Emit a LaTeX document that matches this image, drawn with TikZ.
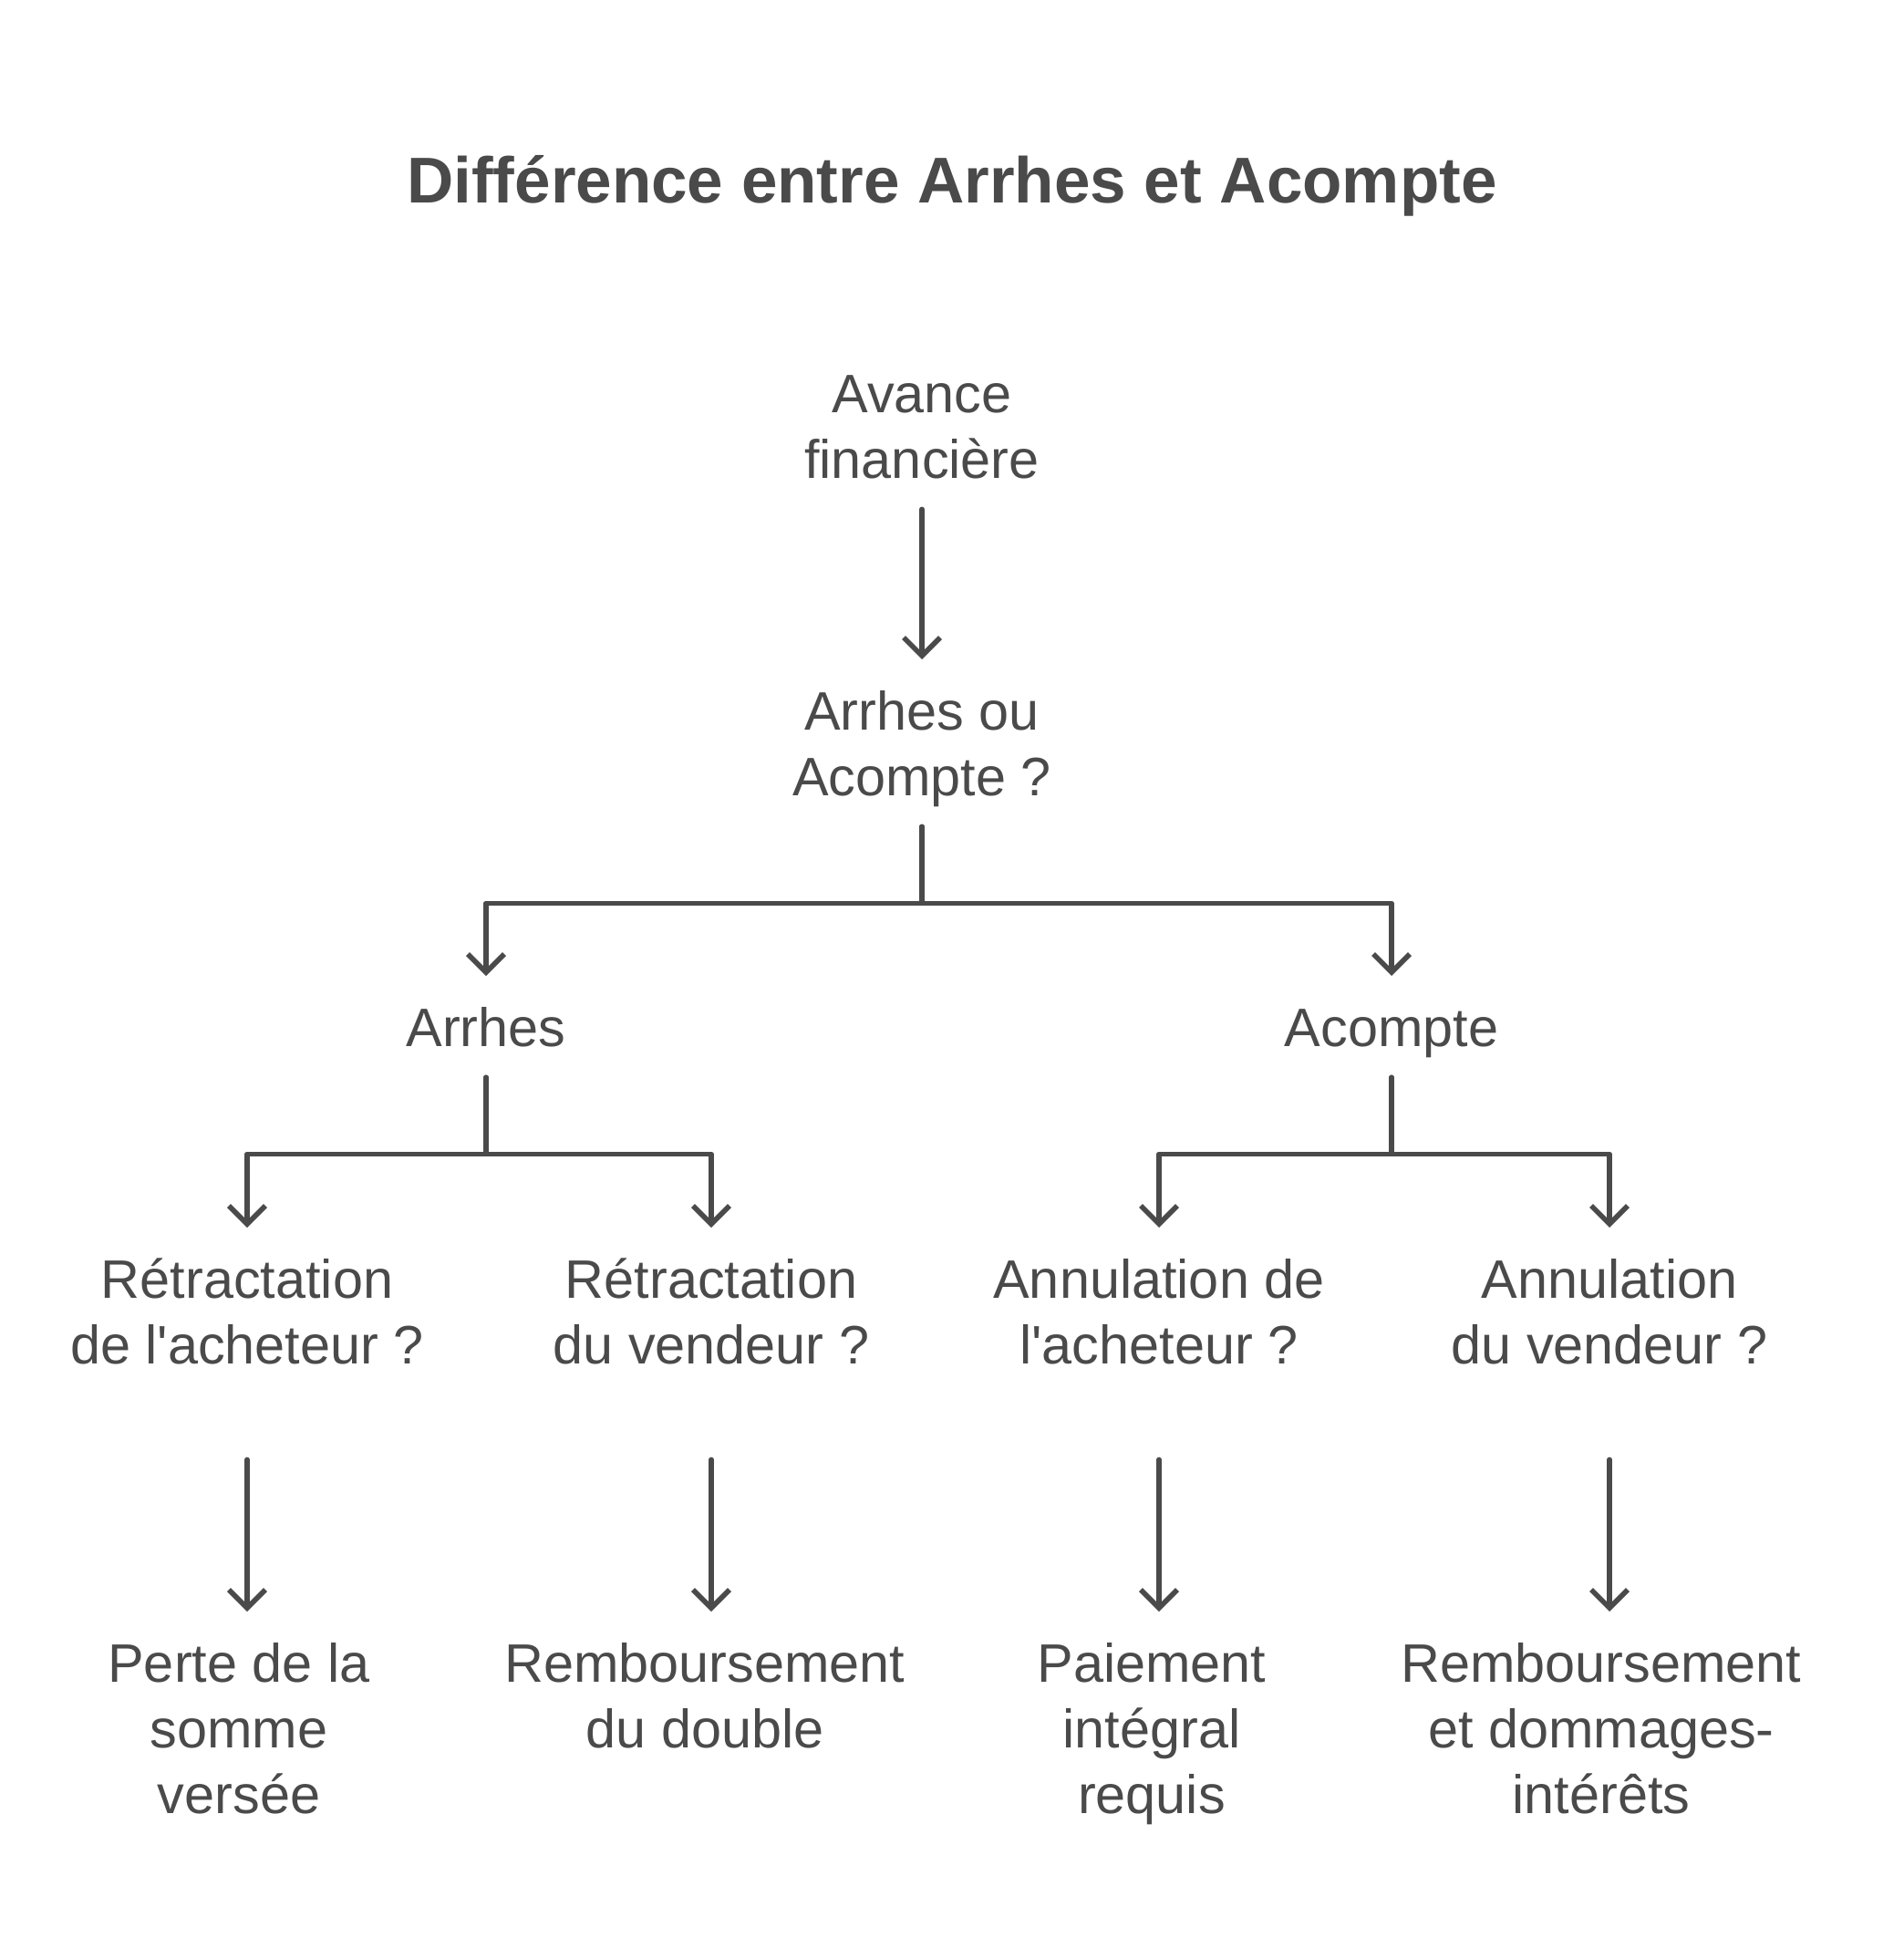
\documentclass[tikz,border=0pt]{standalone}
\usepackage{fontspec}
\setmainfont{Liberation Sans}
\usetikzlibrary{arrows.meta}

\definecolor{ink}{HTML}{4A4A4A}
\newcommand{\tp}{\rule{0pt}{0.77cm}}
\newcommand{\apos}{\textquotesingle}

\tikzset{
  lbl/.style={align=center, inner sep=0pt, anchor=north, text depth=0.33cm,
    text=ink, font=\fontsize{16.9}{20.5}\selectfont},
  flow/.style={draw=ink, line width=1.6pt, line cap=round, line join=round},
  arr/.style={flow, -{Straight Barb[length=0.2cm,width=0.4cm]}}
}

\begin{document}
\begin{tikzpicture}
\useasboundingbox (0,0) rectangle (20.88,-21.48);

\node[anchor=base, text=ink, font=\bfseries\fontsize{20.2}{24}\selectfont] (title) at (10.44,-2.23) {Différence entre Arrhes et Acompte};

\node[lbl] (avance) at (10.11,-3.75) {\tp Avance\\financière};
\node[lbl] (choix) at (10.11,-7.23) {\tp Arrhes ou\\Acompte ?};

\node[lbl] (arrhes) at (5.33,-10.70) {\tp Arrhes};
\node[lbl] (acompte) at (15.26,-10.70) {\tp Acompte};

\node[lbl] (retach) at (2.71,-13.46) {\tp Rétractation\\de l\apos acheteur ?};
\node[lbl] (retven) at (7.80,-13.46) {\tp Rétractation\\du vendeur ?};
\node[lbl] (annach) at (12.71,-13.46) {\tp Annulation de\\l\apos acheteur ?};
\node[lbl] (annven) at (17.65,-13.46) {\tp Annulation\\du vendeur ?};

\node[lbl] (perte) at (2.62,-17.67) {\tp Perte de la\\somme\\versée};
\node[lbl] (double) at (7.73,-17.67) {\tp Remboursement\\du double};
\node[lbl] (integral) at (12.63,-17.67) {\tp Paiement\\intégral\\requis};
\node[lbl] (dommages) at (17.56,-17.67) {\tp Remboursement\\et dommages-\\intérêts};

% top
\draw[arr] (avance.south) -- (choix.north);
\draw[arr] (choix.south) -- ++(0,-0.84) -| (arrhes.north);
\draw[arr] (choix.south) -- ++(0,-0.84) -| (acompte.north);

% branches
\draw[arr] (arrhes.south) -- ++(0,-0.84) -| (retach.north);
\draw[arr] (arrhes.south) -- ++(0,-0.84) -| (retven.north);
\draw[arr] (acompte.south) -- ++(0,-0.84) -| (annach.north);
\draw[arr] (acompte.south) -- ++(0,-0.84) -| (annven.north);

% outcomes
\draw[arr, shorten <=0.71cm] (retach.south) -- (retach.south |- perte.north);
\draw[arr, shorten <=0.71cm] (retven.south) -- (retven.south |- double.north);
\draw[arr, shorten <=0.71cm] (annach.south) -- (annach.south |- integral.north);
\draw[arr, shorten <=0.71cm] (annven.south) -- (annven.south |- dommages.north);
\end{tikzpicture}
\end{document}
